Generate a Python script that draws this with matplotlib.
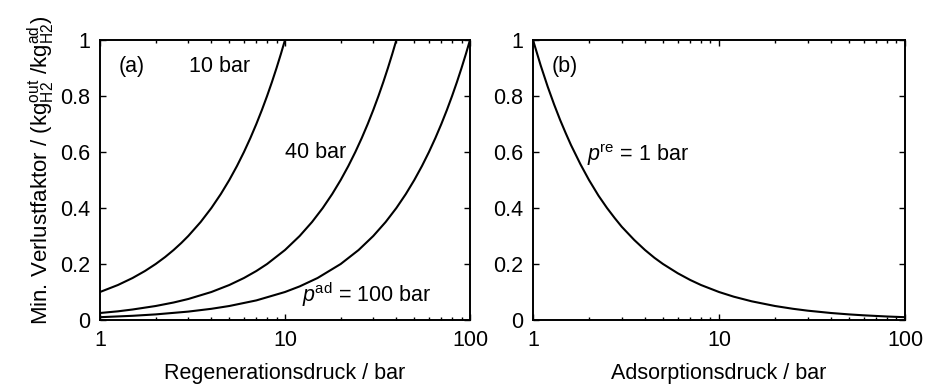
import matplotlib

matplotlib.use("Agg")
import matplotlib.pyplot as plt

plt.rcParams.update({
    "font.family": ["Liberation Sans", "DejaVu Sans"],
    "font.size": 15.5,
    "mathtext.fontset": "custom",
    "mathtext.rm": "Liberation Sans",
    "mathtext.it": "Liberation Sans:italic",
    "mathtext.default": "regular",
})

# (a) loss factor vs. regeneration pressure, one curve per adsorption pressure
pre_10 = [1, 1.25, 1.5, 1.75, 2, 2.25, 2.5, 2.75, 3, 3.5, 4, 4.5, 5, 5.5, 6,
          6.5, 7, 7.5, 8, 8.5, 9, 9.5, 10]
loss_10 = [0.1, 0.125, 0.15, 0.175, 0.2, 0.225, 0.25, 0.275, 0.3, 0.35, 0.4,
           0.45, 0.5, 0.55, 0.6, 0.65, 0.7, 0.75, 0.8, 0.85, 0.9, 0.95, 1.0]
pre_40 = [1, 1.25, 1.5, 2, 2.5, 3, 4, 5, 6, 7, 8, 10, 12, 14, 16, 18, 20, 22,
          24, 26, 28, 30, 32, 34, 36, 38, 40]
loss_40 = [0.025, 0.031, 0.0375, 0.05, 0.0625, 0.075, 0.1, 0.125, 0.15, 0.175,
           0.2, 0.25, 0.3, 0.35, 0.4, 0.45, 0.5, 0.55, 0.6, 0.65, 0.7, 0.75,
           0.8, 0.85, 0.9, 0.95, 1.0]
pre_100 = [1, 1.5, 2, 3, 4, 5, 7, 10, 12, 15, 20, 25, 30, 35, 40, 45, 50, 55,
           60, 65, 70, 75, 80, 85, 90, 95, 100]
loss_100 = [0.01, 0.015, 0.02, 0.03, 0.04, 0.05, 0.07, 0.1, 0.12, 0.15, 0.2,
            0.25, 0.3, 0.35, 0.4, 0.45, 0.5, 0.55, 0.6, 0.65, 0.7, 0.75, 0.8,
            0.85, 0.9, 0.95, 1.0]

# (b) loss factor vs. adsorption pressure at p_re = 1 bar
pad_1 = [1, 1.1, 1.2, 1.3, 1.4, 1.5, 1.6, 1.8, 2, 2.25, 2.5, 2.75, 3, 3.5, 4,
         4.5, 5, 6, 7, 8, 10, 12, 15, 20, 25, 30, 40, 50, 60, 80, 100]
loss_1 = [1.0, 0.909, 0.833, 0.769, 0.714, 0.667, 0.625, 0.556, 0.5, 0.444,
          0.4, 0.364, 0.333, 0.286, 0.25, 0.222, 0.2, 0.167, 0.143, 0.125, 0.1,
          0.0833, 0.0667, 0.05, 0.04, 0.0333, 0.025, 0.02, 0.0167, 0.0125, 0.01]

y_ticks = [0, 0.2, 0.4, 0.6, 0.8, 1]
y_ticklabels = ["0", "0.2", "0.4", "0.6", "0.8", "1"]
x_ticks = [1, 10, 100]
x_ticklabels = ["1", "10", "100"]

fig = plt.figure(figsize=(9.26, 3.89), dpi=100)
W, H = 926, 389
ax_a = fig.add_axes([100 / W, 1 - 320 / H, 370 / W, 280 / H])
ax_b = fig.add_axes([533 / W, 1 - 320 / H, 372 / W, 280 / H])

LW = 1.5
ax_a.plot(pre_10, loss_10, color="black", lw=LW)
ax_a.plot(pre_40, loss_40, color="black", lw=LW)
ax_a.plot(pre_100, loss_100, color="black", lw=LW)
ax_b.plot(pad_1, loss_1, color="black", lw=LW)

for ax in (ax_a, ax_b):
    ax.set_xscale("log")
    ax.set_xlim(1, 100)
    ax.set_ylim(0, 1)
    ax.set_xticks(x_ticks)
    ax.set_xticklabels(x_ticklabels)
    ax.set_yticks(y_ticks)
    ax.set_yticklabels(y_ticklabels)
    ax.tick_params(which="both", direction="in", top=True, right=True, width=1.0)
    ax.tick_params(which="major", length=4.5, pad=7)
    ax.tick_params(which="minor", length=2.5)
    for s in ax.spines.values():
        s.set_linewidth(1.4)

ax_a.set_xlabel("Regenerationsdruck / bar", labelpad=9)
ax_b.set_xlabel("Adsorptionsdruck / bar", labelpad=9)
ax_a.set_ylabel(r"Min. Verlustfaktor / (kg$_{H2}^{out}$ /kg$_{H2}^{ad}$)",
                fontsize=16)
# label sits a little above the axes centre, as in the original
ax_a.yaxis.set_label_coords(-0.115, 0.535)

ax_a.text(0.051, 0.904, "(a)", transform=ax_a.transAxes, ha="left", va="center")
ax_a.text(0.324, 0.904, "10 bar", transform=ax_a.transAxes, ha="center", va="center")
ax_a.text(0.584, 0.6, "40 bar", transform=ax_a.transAxes, ha="center", va="center")
ax_a.text(0.72, 0.09, r"$\it{p}$$^{ad}$ = 100 bar", transform=ax_a.transAxes,
          ha="center", va="center")
ax_b.text(0.051, 0.904, "(b)", transform=ax_b.transAxes, ha="left", va="center")
ax_b.text(0.145, 0.59, r"$\it{p}$$^{re}$ = 1 bar", transform=ax_b.transAxes,
          ha="left", va="center")

fig.savefig("out.png", dpi=100)
